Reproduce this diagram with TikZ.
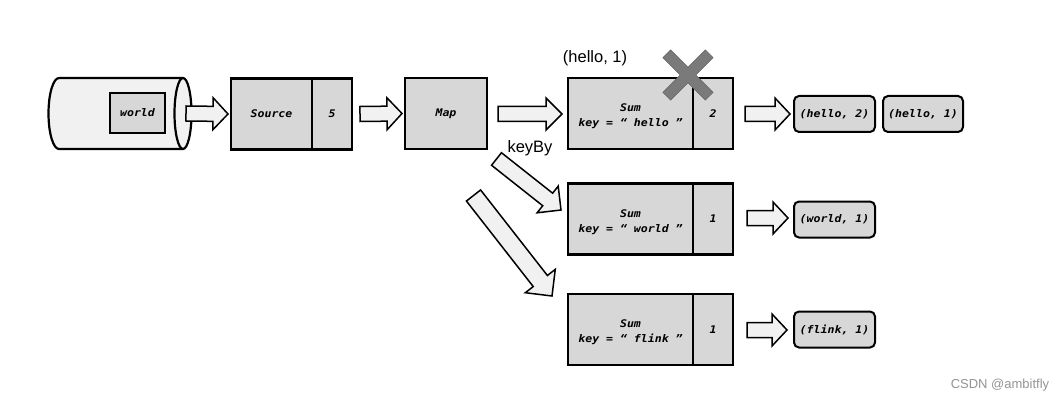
\documentclass[tikz,border=0pt]{standalone}
\usepackage{fontspec}
\setmainfont{Liberation Sans}
\newfontfamily\codefont[FakeStretch=1.1]{DejaVu Sans Mono Bold Oblique}
\usetikzlibrary{calc}
\definecolor{boxgray}{RGB}{215,215,215}
\definecolor{arrowfill}{RGB}{241,241,241}
\definecolor{crossgray}{RGB}{122,122,122}
\tikzset{
  box/.style={draw=black, line width=2.2pt, fill=boxgray, inner sep=0pt, outer sep=0pt,
    minimum height=71pt, align=center, font=\codefont\fontsize{10.5}{15}\selectfont},
  result/.style={draw=black, line width=2pt, fill=boxgray, rounded corners=5pt, inner sep=0pt,
    outer sep=0pt, minimum width=81pt, minimum height=36pt, font=\codefont\fontsize{10.5}{13}\selectfont},
  barrow/.style={draw=black, line width=1.5pt, fill=arrowfill, line join=miter},
  sanslabel/.style={font=\fontsize{16.5}{19}\selectfont, inner sep=0pt},
  cylline/.style={draw=black, line width=2.2pt},
}
\newcommand\blockarrow[5]{%
  \coordinate (bah) at ($(#2)!#5!(#1)$);
  \draw[barrow] ($(#1)!#3!90:(#2)$) -- ($(bah)!#3!90:(#2)$) -- ($(bah)!#4!90:(#2)$) -- (#2)
    -- ($(bah)!#4!-90:(#2)$) -- ($(bah)!#3!-90:(#2)$) -- ($(#1)!#3!-90:(#2)$) -- cycle;}
\newcommand\sumstrut{\rule{0pt}{14pt}}
\begin{document}
\begin{tikzpicture}[x=1pt,y=-1pt]
\useasboundingbox[fill=white] (0,0) rectangle (1060,401);

% cylinder
\node[inner sep=0pt, outer sep=0pt, minimum width=143pt, minimum height=71pt] (cyl) at (120.5,113.5) {};
\fill[arrowfill] (183,78) -- (59,78) arc[start angle=270, end angle=90, x radius=10.5, y radius=35.5] -- (183,149) -- cycle;
\draw[cylline] (183,78) -- (59,78) arc[start angle=270, end angle=90, x radius=10.5, y radius=35.5] -- (183,149);
\draw[cylline, fill=arrowfill] (183,113.5) ellipse[x radius=8.5, y radius=35.5];
\node[box, minimum width=55pt, minimum height=40pt] (world) at (137.5,113) {world};

% operators
\node[box, minimum width=81pt] (src) at (271.5,114) {Source};
\node[box, minimum width=40pt, anchor=west] (srcn) at (src.east) {5};
\node[box, minimum width=82pt] (map) at (446,113.5) {Map};

\node[box, minimum width=125pt] (sum1) at (630.5,113.5) {\sumstrut Sum\\key = “ hello ”};
\node[box, minimum width=40pt, anchor=west] (sum1n) at (sum1.east) {2};
\node[box, minimum width=125pt] (sum2) at (630.5,219) {\sumstrut Sum\\key = “ world ”};
\node[box, minimum width=40pt, anchor=west] (sum2n) at (sum2.east) {1};
\node[box, minimum width=125pt] (sum3) at (630.5,329.5) {\sumstrut Sum\\key = “ flink ”};
\node[box, minimum width=40pt, anchor=west] (sum3n) at (sum3.east) {1};

% results
\node[result] (r1) at (834.5,114) {(hello, 2)};
\node[result, minimum width=80pt] (r2) at (923,114) {(hello, 1)};
\node[result] (r3) at (834.5,219.5) {(world, 1)};
\node[result] (r4) at (834.5,329.5) {(flink, 1)};

% labels
\node[sanslabel] (t1) at (595,58) {(hello, 1)};
\node[sanslabel] (t2) at (530,148) {keyBy};
\node[font=\fontsize{13}{15}\selectfont, text=black!42, inner sep=0pt] (wm) at (1000,385) {CSDN @ambitfly};

% cross
\filldraw[fill=crossgray, draw=black!60, line width=0.6pt, shift={(688,75)}, rotate=45]
  (5.5,5.5) -- (30,5.5) -- (30,-5.5) -- (5.5,-5.5) -- (5.5,-30) -- (-5.5,-30) -- (-5.5,-5.5)
  -- (-30,-5.5) -- (-30,5.5) -- (-5.5,5.5) -- (-5.5,30) -- (5.5,30) -- cycle;

% arrows
\coordinate (a1s) at ($(cyl.east)+(-6,0)$);
\coordinate (a1e) at ($(src.west)+(-3,0)$);
\coordinate (a2s) at ($(srcn.east)+(8,0)$);
\coordinate (a2e) at ($(map.west)+(-3,0)$);
\coordinate (a3s) at ($(map.east)+(11,0.5)$);
\coordinate (a3e) at ($(sum1.west)+(-6,0.5)$);
\coordinate (a4s) at ($(sum1n.east)+(12,0.5)$);
\coordinate (a4e) at ($(r1.west)+(-4,0)$);
\coordinate (a5s) at ($(sum2n.east)+(14,-1)$);
\coordinate (a5e) at ($(r3.west)+(-6,-1.5)$);
\coordinate (a6s) at ($(sum3n.east)+(14,0.5)$);
\coordinate (a6e) at ($(r4.west)+(-7,0.5)$);
\coordinate (d1s) at (496.5,159);
\coordinate (d1e) at ($(sum2.west)+(-7,-9)$);
\coordinate (d2s) at (473.5,195.5);
\coordinate (d2e) at ($(sum3.west)+(-16,-33.5)$);

\blockarrow{a1s}{a1e}{7.5pt}{16pt}{15pt}
\blockarrow{a2s}{a2e}{7.5pt}{16pt}{15pt}
\blockarrow{a3s}{a3e}{7.5pt}{16pt}{16pt}
\blockarrow{a4s}{a4e}{7.5pt}{16pt}{15pt}
\blockarrow{a5s}{a5e}{7.5pt}{16pt}{15pt}
\blockarrow{a6s}{a6e}{7.5pt}{16pt}{15pt}
\blockarrow{d1s}{d1e}{8pt}{17pt}{17pt}
\blockarrow{d2s}{d2e}{9pt}{19pt}{19pt}
\end{tikzpicture}
\end{document}
